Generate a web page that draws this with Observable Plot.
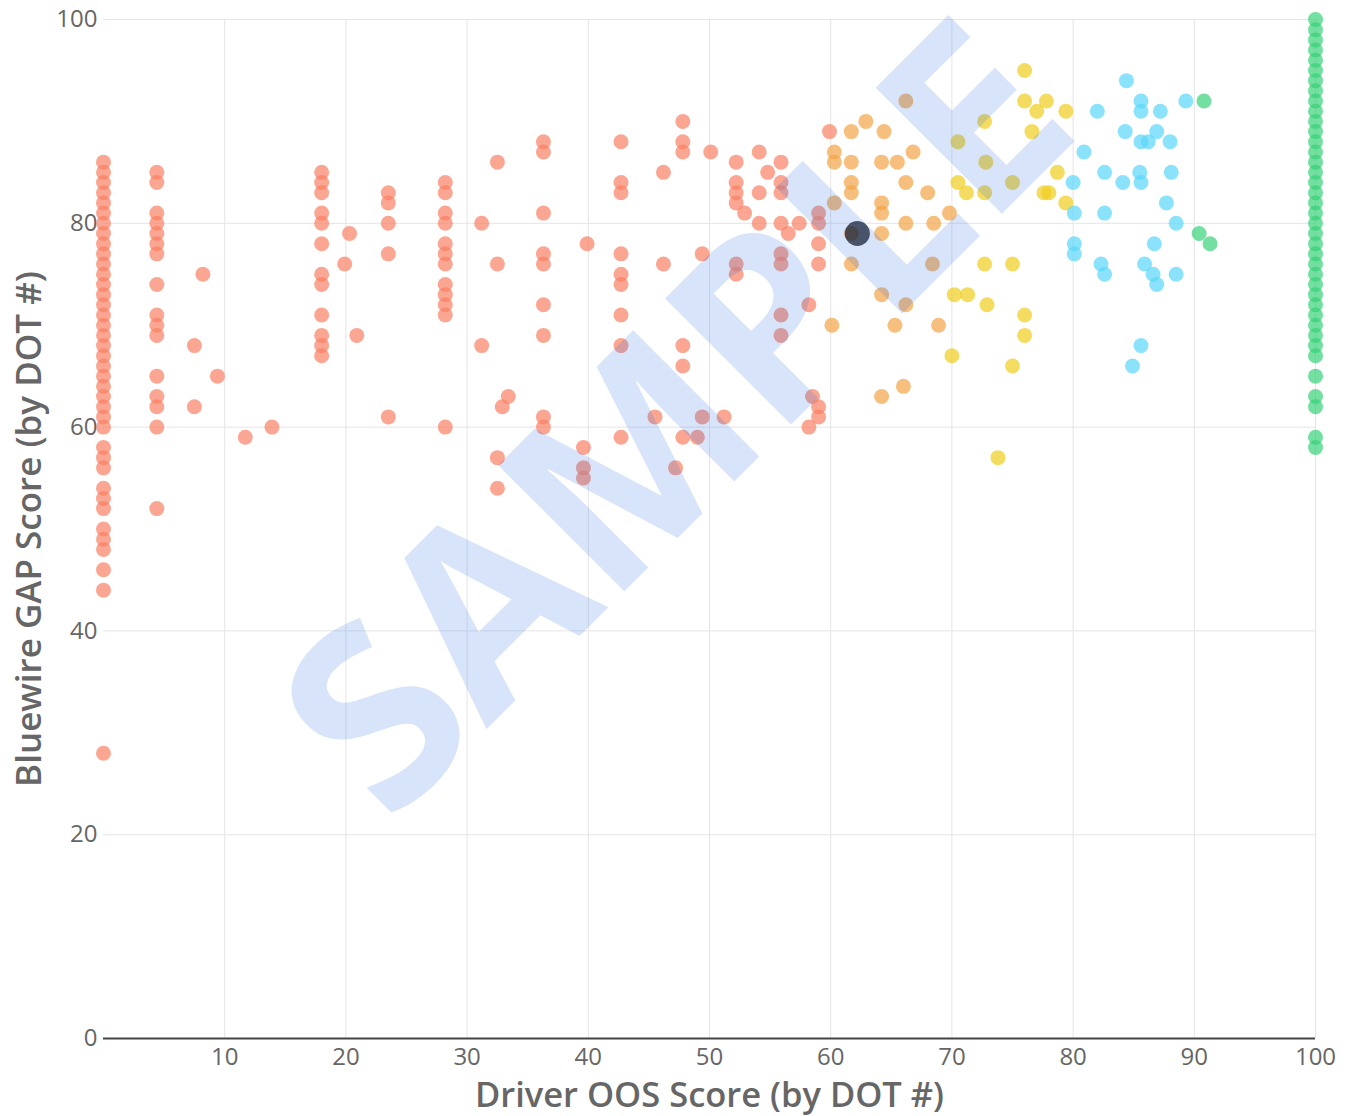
<!DOCTYPE html>
<html>
<head>
<meta charset="utf-8">
<script src="https://cdn.jsdelivr.net/npm/d3@7"></script>
<script src="https://cdn.jsdelivr.net/npm/@observablehq/plot@0.6"></script>
<style>
  html, body { margin: 0; padding: 0; background: #fff; }
  #chart svg { display: block; }
</style>
</head>
<body>
<div id="chart"></div>
<script>
// ---- Data ----
const xTitle = "Driver OOS Score (by DOT #)";
const yTitle = "Bluewire GAP Score (by DOT #)";
const watermark = "SAMPLE";
const xTicks = [10, 20, 30, 40, 50, 60, 70, 80, 90, 100];
const yTicks = [0, 20, 40, 60, 80, 100];

// Salmon group (OOS < 60): vertical stacks [x, [y...]] and single points [x, y]
const salmonColumns = [
  [0, [86,85,84,83,82,81,80,79,78,77,76,75,74,73,72,71,70,69,68,67,66,65,64,63,62,61,60,58,57,56,54,53,52,50,49,48,46,44,28]],
  [4.4, [85,84,81,80,79,78,77,74,71,70,69,65,63,62,60,52]],
  [18.0, [85,84,83,81,80,78,75,74,71,69,68,67]],
  [23.5, [83,82,80,77,61]],
  [28.2, [84,83,81,80,78,77,76,74,73,72,71,60]],
  [36.3, [88,87,81,77,76,72,69,61,60]],
  [39.6, [58,56,55]],
  [42.7, [88,84,83,77,75,74,71,68,59]],
  [47.8, [90,88,87,68,66,59]],
  [52.2, [86,84,83,82,76,75]],
  [54.1, [87,83,80]],
  [55.9, [86,84,83,80,77,76,71,69]],
  [59.0, [81,80,78,76,62,61]]
];
const salmonSingles = [
  [8.2,75],[7.5,68],[9.4,65],[7.5,62],[11.7,59],[13.9,60],
  [20.3,79],[19.9,76],[20.9,69],
  [31.2,80],[31.2,68],[32.5,86],[32.5,76],[32.9,62],[33.4,63],[32.5,57],[32.5,54],
  [39.9,78],[45.5,61],[46.2,85],[46.2,76],[47.2,56],
  [49.0,59],[49.4,77],[49.4,61],[50.1,87],[51.2,61],
  [52.9,81],[54.8,85],[56.5,79],[57.4,80],[58.2,72],[58.2,60],[58.5,63],[59.9,89]
];
// Orange group (60–70)
const orangePoints = [
  [60.3,87],[60.3,86],[61.7,89],[62.9,90],[64.4,89],[61.7,86],[64.2,86],[65.5,86],[66.8,87],[66.2,92],
  [61.7,84],[61.7,83],[60.3,82],[64.2,82],[64.2,81],[66.2,84],[68.0,83],[66.2,80],[64.2,79],[68.5,80],
  [61.7,76],[64.2,73],[66.2,72],[65.3,70],[60.1,70],[68.4,76],[64.2,63],[66.0,64],[69.8,81],[68.9,70],[61.7,79]
];
// Yellow group (70–80)
const yellowPoints = [
  [76.0,95],[76.0,92],[77.8,92],[77.0,91],[79.4,91],[72.7,90],[76.6,89],[70.5,88],[72.8,86],[75.0,84],
  [78.7,85],[70.5,84],[71.2,83],[72.7,83],[77.6,83],[78.0,83],[79.4,82],[72.7,76],[75.0,76],[70.2,73],
  [71.3,73],[72.9,72],[76.0,71],[76.0,69],[70.0,67],[75.0,66],[73.8,57]
];
// Cyan group (80–90)
const cyanPoints = [
  [84.4,94],[82.0,91],[84.3,89],[80.9,87],[82.6,85],[80.0,84],[84.1,84],[80.1,81],[82.6,81],[80.1,78],
  [80.1,77],[82.3,76],[82.6,75],[84.9,66],[85.6,92],[85.6,91],[87.2,91],[89.3,92],[86.9,89],[85.6,88],
  [86.2,88],[88.0,88],[85.5,85],[85.6,84],[88.1,85],[87.7,82],[88.5,80],[86.7,78],[85.9,76],[86.6,75],
  [86.9,74],[88.5,75],[85.6,68]
];
// Green group (>= 90)
const greenColumn = [100, [100,99,98,97,96,95,94,93,92,91,90,89,88,87,86,85,84,83,82,81,80,79,78,77,76,75,74,73,72,71,70,69,68,67,65,63,62,59,58]];
const greenSingles = [[90.8,92],[90.4,79],[91.3,78]];
// Highlighted driver
const highlight = [[62.2,79]];

const groupColors = {
  salmon: "rgb(250,128,100)",
  orange: "rgb(243,164,70)",
  yellow: "rgb(240,205,30)",
  cyan:   "rgb(90,215,250)",
  green:  "rgb(55,210,120)"
};

// ---- Build tables ----
const toRows = (pairs) => pairs.map(([x, y]) => ({x, y}));
const fromColumns = (cols) => cols.flatMap(([x, ys]) => ys.map(y => ({x, y})));

const salmon = [...fromColumns(salmonColumns), ...toRows(salmonSingles)];
const orange = toRows(orangePoints);
const yellow = toRows(yellowPoints);
const cyan = toRows(cyanPoints);
const green = [...fromColumns([greenColumn]), ...toRows(greenSingles)];
const hl = toRows(highlight);

const dotOpts = (color) => ({x: "x", y: "y", r: 7.5, fill: color, fillOpacity: 0.7, stroke: "none"});

const chart = Plot.plot({
  width: 1349,
  height: 1116,
  marginTop: 19,
  marginRight: 34,
  marginBottom: 78,
  marginLeft: 103,
  style: {fontFamily: "'Open Sans', sans-serif", background: "#fff", overflow: "visible"},
  x: {domain: [0, 100]},
  y: {domain: [0, 100]},
  marks: [
    Plot.gridX(xTicks, {stroke: "#e5e5e5", strokeOpacity: 1, strokeWidth: 1}),
    Plot.gridY(yTicks, {stroke: "#e5e5e5", strokeOpacity: 1, strokeWidth: 1}),
    Plot.ruleY([0], {stroke: "#444", strokeWidth: 2}),
    Plot.axisX(xTicks, {tickSize: 0, tickPadding: 9, fontSize: 24, fill: "#666", label: null}),
    Plot.axisY(yTicks, {tickSize: 0, tickPadding: 6, fontSize: 24, fill: "#666", label: null}),
    Plot.dot(salmon, dotOpts(groupColors.salmon)),
    Plot.dot(orange, dotOpts(groupColors.orange)),
    Plot.dot(yellow, dotOpts(groupColors.yellow)),
    Plot.dot(cyan, dotOpts(groupColors.cyan)),
    Plot.dot(green, dotOpts(groupColors.green)),
    Plot.dot(hl, {x: "x", y: "y", r: 12.5, fill: "#000", fillOpacity: 0.7, stroke: "none"}),
    Plot.text([xTitle], {frameAnchor: "bottom", dy: 68, lineAnchor: "bottom", textAnchor: "middle", text: d => d,
      fontSize: 34.5, fontWeight: 600, fill: "#666"}),
    Plot.text([yTitle], {frameAnchor: "left", dx: -63, rotate: -90, lineAnchor: "bottom", textAnchor: "middle", text: d => d,
      fontSize: 35, fontWeight: 600, fill: "#666"}),
    Plot.text([watermark], {frameAnchor: "middle", dx: -29, dy: -107, rotate: -45, textAnchor: "middle", text: d => d,
      fontSize: 250, fontWeight: 700, fill: "rgb(60,120,225)", fillOpacity: 0.2})
  ]
});

document.getElementById("chart").appendChild(chart);
</script>
</body>
</html>
